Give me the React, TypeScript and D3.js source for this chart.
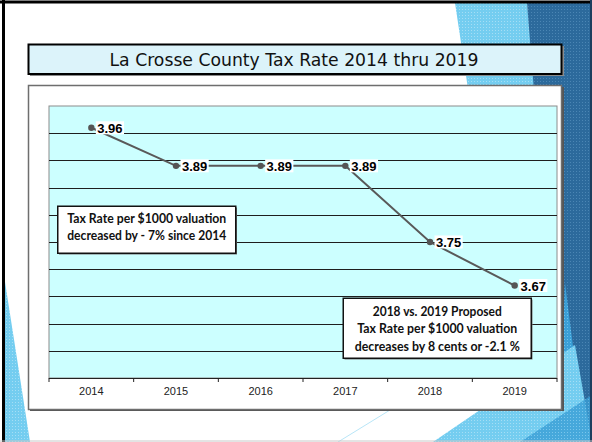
import React from "react";
import * as d3 from "d3";

const years = ["2014", "2015", "2016", "2017", "2018", "2019"];
const rates = [3.96, 3.89, 3.89, 3.89, 3.75, 3.67];
const yDomain = [3.5, 4.0];
const titleText = "La Crosse County Tax Rate 2014 thru 2019";
const note1 = ["Tax Rate per $1000 valuation", "decreased by - 7% since 2014"];
const note1Widths = [159, 159];
const note2 = ["2018 vs. 2019 Proposed", "Tax Rate per $1000 valuation", "decreases by 8 cents or -2.1 %"];
const note2Widths = [129, 160, 165];

const W = 592;
const H = 442;

export default function App() {
  const plot = { left: 49, right: 557, top: 106, bottom: 378 };
  const x = d3.scaleBand<string>().domain(years).range([plot.left, plot.right]).padding(0);
  const y = d3.scaleLinear().domain(yDomain).range([plot.bottom, plot.top]);
  const gridVals = y.ticks(10);
  const cx = (yr: string) => (x(yr) as number) + x.bandwidth() / 2;
  const line = d3
    .line<number>()
    .x((_, i) => cx(years[i]))
    .y((d) => y(d));
  const tickXs = years.map((yr) => x(yr) as number).concat([plot.right]);

  const annFont = "Lato, 'Liberation Sans', Arial, sans-serif";
  const arial = "'Liberation Sans', Arial, sans-serif";

  return (
    <svg
      width={W}
      height={H}
      viewBox={`0 0 ${W} ${H}`}
      style={{ position: "fixed", left: 0, top: 0, background: "#fff" }}
    >
      <defs>
        <pattern id="dots" width="3" height="3" patternUnits="userSpaceOnUse">
          <rect width="3" height="3" fill="#2c6a9c" />
          <rect width="1" height="1" fill="#4b86b4" />
        </pattern>
        <pattern id="ldots" width="3" height="3" patternUnits="userSpaceOnUse">
          <rect width="3" height="3" fill="#74cdf0" />
          <rect width="1" height="1" fill="#a5def5" />
        </pattern>
        <pattern id="mdots" width="3" height="3" patternUnits="userSpaceOnUse">
          <rect width="3" height="3" fill="#3b9fd6" />
          <rect width="1" height="1" fill="#6fc0ea" />
        </pattern>
      </defs>

      {/* slide background decorations */}
      <rect x={0} y={0} width={W} height={H} fill="#fff" />
      <polygon points="455,3 527,3 560,300 500,300" fill="url(#ldots)" />
      <polygon points="527,3 592,3 592,442 562,442" fill="url(#dots)" />
      <polygon points="565,283 585,442 560,442" fill="url(#mdots)" />
      <polygon points="433,442 575,345 592,442" fill="url(#ldots)" />
      <polygon points="520,442 592,395 592,442" fill="url(#mdots)" opacity={0.8} />
      <polygon points="5,282 5,442 30,442" fill="url(#ldots)" />
      <line x1={338} y1={442} x2={390} y2={410} stroke="#b8e6f7" strokeWidth={1} />

      {/* slide border */}
      <line x1={3.5} y1={0} x2={3.5} y2={H} stroke="#000" strokeWidth={3} />
      <line x1={0} y1={2} x2={W} y2={2} stroke="#000" strokeWidth={3} />
      <line x1={591} y1={0} x2={591} y2={H} stroke="#1d3f5e" strokeWidth={2} />
      <line x1={0} y1={441} x2={W} y2={441} stroke="#c8c8c8" strokeWidth={1} />

      {/* title */}
      <rect x={30} y={46} width={534} height={30} fill="#8a8a8a" />
      <rect x={28.5} y={44.5} width={533} height={29.5} fill="#dcf3fa" stroke="#000" strokeWidth={2} />
      <text
        x={294}
        y={60}
        textAnchor="middle"
        dominantBaseline="central"
        fontFamily="'DejaVu Sans', Verdana, sans-serif"
        fontSize={17}
        fill="#111"
        textLength={369}
        lengthAdjust="spacingAndGlyphs"
      >
        {titleText}
      </text>

      {/* chart box */}
      <rect x={30} y={87} width={534} height={324} fill="#555" />
      <rect x={28.5} y={85.5} width={533} height={324} fill="#fff" stroke="#6e6e6e" strokeWidth={1.5} />

      {/* plot area */}
      <rect
        x={plot.left}
        y={plot.top}
        width={plot.right - plot.left}
        height={plot.bottom - plot.top}
        fill="#ccffff"
        stroke="#8c8c8c"
        strokeWidth={1}
      />
      {gridVals
        .filter((v) => v > yDomain[0] && v < yDomain[1])
        .map((v) => (
          <line
            key={v}
            x1={plot.left}
            x2={plot.right}
            y1={Math.round(y(v)) + 0.5}
            y2={Math.round(y(v)) + 0.5}
            stroke="#1e1e1e"
            strokeWidth={1.1}
          />
        ))}
      {/* x axis */}
      <line x1={plot.left} x2={plot.right} y1={plot.bottom + 0.5} y2={plot.bottom + 0.5} stroke="#222" strokeWidth={1.2} />
      {tickXs.map((tx, i) => (
        <line key={i} x1={tx} x2={tx} y1={plot.bottom} y2={plot.bottom + 4} stroke="#222" strokeWidth={1} />
      ))}
      {years.map((yr) => (
        <text
          key={yr}
          x={cx(yr)}
          y={391}
          textAnchor="middle"
          dominantBaseline="central"
          fontFamily={arial}
          fontSize={11}
          fill="#222"
        >
          {yr}
        </text>
      ))}

      {/* series line */}
      <path d={line(rates) || ""} fill="none" stroke="#595959" strokeWidth={2} />
      {rates.map((r, i) => (
        <circle key={i} cx={cx(years[i])} cy={y(r)} r={3.2} fill="#555" />
      ))}
      {rates.map((r, i) => {
        const label = r.toFixed(2);
        const px = cx(years[i]);
        const py = y(r);
        const w = label.length * 6.8 + 1;
        return (
          <g key={"l" + i}>
            <rect x={px + 4.5} y={py - 6.5} width={w} height={13} fill="#fff" />
            <text
              x={px + 4.5 + w / 2}
              y={py + 0.5}
              textAnchor="middle"
              dominantBaseline="central"
              fontFamily={arial}
              fontWeight="bold"
              fontSize={13}
              fill="#000"
            >
              {label}
            </text>
          </g>
        );
      })}

      {/* annotation 1 */}
      <rect x={59} y={207.5} width={178} height={47} fill="#777" />
      <rect x={57.75} y={206.25} width={178} height={47} fill="#fff" stroke="#111" strokeWidth={1.5} />
      {note1.map((t, i) => (
        <text
          key={t}
          x={146.75}
          y={218 + i * 17}
          textAnchor="middle"
          dominantBaseline="central"
          fontFamily={annFont}
          fontWeight="bold"
          fontSize={12.5}
          fill="#111"
          textLength={note1Widths[i]}
          lengthAdjust="spacingAndGlyphs"
        >
          {t}
        </text>
      ))}

      {/* annotation 2 */}
      <rect x={344.5} y={299.5} width={188} height={60} fill="#777" />
      <rect x={343.25} y={298.25} width={188} height={60} fill="#fff" stroke="#111" strokeWidth={1.5} />
      {note2.map((t, i) => (
        <text
          key={t}
          x={437.25}
          y={311 + i * 17.5}
          textAnchor="middle"
          dominantBaseline="central"
          fontFamily={annFont}
          fontWeight="bold"
          fontSize={12.5}
          fill="#111"
          textLength={note2Widths[i]}
          lengthAdjust="spacingAndGlyphs"
        >
          {t}
        </text>
      ))}
    </svg>
  );
}
